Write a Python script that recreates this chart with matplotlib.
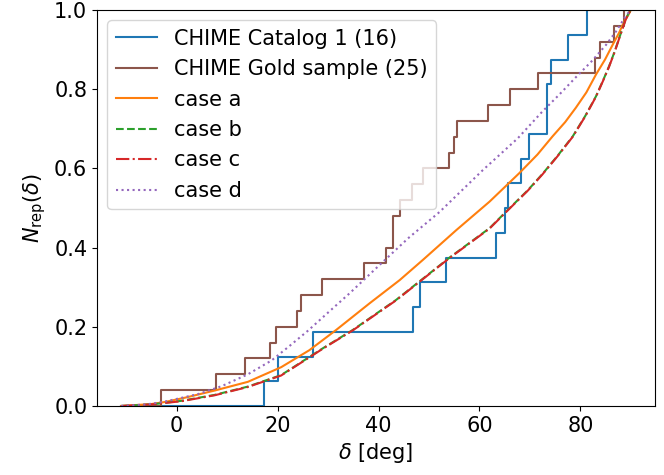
import numpy as np
import matplotlib
matplotlib.use("Agg")
import matplotlib.pyplot as plt

# Declinations (deg) of repeating FRB sources
catalog1_dec = [17.3, 20.0, 27.1, 46.9, 48.3, 53.3, 63.2, 65.1, 65.6, 68.3,
                69.8, 73.3, 73.3, 74.2, 77.6, 81.4]
gold_dec = [-3.1, 7.8, 13.5, 18.4, 19.7, 23.9, 24.6, 28.8, 37.2, 41.4,
            42.8, 42.8, 44.2, 46.6, 48.8, 53.9, 55.0, 55.6, 61.7, 66.0,
            71.7, 82.9, 83.8, 86.6, 88.7]

dec_min, dec_max = -11.0, 90.0

# Model cumulative distributions
case_a_dec = [-11, -5, -2.4, 2, 7.5, 14.1, 20.7, 26.3, 31.6, 38.2, 44.2, 48.8,
              55.4, 62.0, 67.9, 71.5, 74.5, 77.0, 79.1, 81.2, 83.1, 84.9,
              86.4, 87.7, 88.7, 89.5, 90]
case_a_val = [0, 0.005, 0.01, 0.022, 0.039, 0.061, 0.098, 0.141, 0.192, 0.259,
              0.318, 0.369, 0.444, 0.516, 0.588, 0.635, 0.681, 0.717, 0.753,
              0.792, 0.837, 0.875, 0.912, 0.943, 0.971, 0.987, 1.0]

case_b_dec = [-11, -5, 0.9, 7.5, 14.1, 20.7, 29.0, 34.9, 43.5, 54.1, 62.0,
              65.3, 69.6, 72.5, 75.5, 78.5, 81.0, 83.1, 84.5, 85.7, 86.8,
              87.7, 88.4, 89.0, 89.5, 90]
case_b_val = [0, 0.004, 0.013, 0.028, 0.049, 0.078, 0.146, 0.192, 0.268,
              0.375, 0.449, 0.491, 0.545, 0.586, 0.632, 0.681, 0.733, 0.782,
              0.822, 0.858, 0.895, 0.929, 0.955, 0.977, 0.99, 1.0]

case_c_dec = [-11, -5, 0.9, 7.5, 14.1, 20.7, 29.0, 34.9, 43.5, 54.1, 62.0,
              65.3, 69.6, 72.5, 75.5, 78.5, 81.0, 83.1, 84.5, 85.7, 86.8,
              87.7, 88.4, 89.0, 89.5, 90]
case_c_val = [0, 0.004, 0.012, 0.027, 0.048, 0.077, 0.145, 0.191, 0.267,
              0.374, 0.448, 0.490, 0.544, 0.585, 0.631, 0.680, 0.732, 0.781,
              0.821, 0.857, 0.894, 0.928, 0.954, 0.976, 0.989, 1.0]

case_d_dec = [-11, -6, -2.4, 4.2, 8.9, 14.1, 18.8, 22.4, 26.0, 30.0, 34.3,
              40.2, 46.0, 52.1, 60.7, 67.6, 72.5, 75.8, 79.1, 82.2, 85.1,
              87.2, 89.0, 90]
case_d_val = [0, 0.004, 0.011, 0.03, 0.05, 0.08, 0.115, 0.152, 0.19, 0.236,
              0.285, 0.356, 0.425, 0.49, 0.596, 0.676, 0.744, 0.786, 0.83,
              0.87, 0.912, 0.948, 0.985, 1.0]

x_ticks = [0, 20, 40, 60, 80]
y_ticks = [0.0, 0.2, 0.4, 0.6, 0.8, 1.0]


def cumulative(decs):
    d = np.sort(np.asarray(decs, dtype=float))
    n = len(d)
    x = np.concatenate([[dec_min], d, [dec_max]])
    y = np.concatenate([[0.0], np.arange(1, n + 1) / n, [1.0]])
    return x, y


plt.rcParams["font.size"] = 15
fig = plt.figure(figsize=(6.64, 4.75), dpi=100)
ax = fig.add_axes([97 / 664, 69 / 475, 558 / 664, 396 / 475])

x1, y1 = cumulative(catalog1_dec)
ax.step(x1, y1, where="post", color="C0", lw=1.5,
        label=f"CHIME Catalog 1 ({len(catalog1_dec)})")
x2, y2 = cumulative(gold_dec)
ax.step(x2, y2, where="post", color="C5", lw=1.5,
        label=f"CHIME Gold sample ({len(gold_dec)})")

ax.plot(case_a_dec, case_a_val, color="C1", ls="-", lw=1.5, label="case a")
ax.plot(case_b_dec, case_b_val, color="C2", ls="--", lw=1.5, label="case b")
ax.plot(case_c_dec, case_c_val, color="C3", ls="-.", lw=1.5, label="case c")
ax.plot(case_d_dec, case_d_val, color="C4", ls=":", lw=1.5, label="case d")

ax.set_xlim(-15.8, 94.8)
ax.set_ylim(0, 1.0)
ax.set_xticks(x_ticks)
ax.set_yticks(y_ticks)
ax.set_xlabel(r"$\delta$ [deg]")
ax.set_ylabel(r"$N_{\rm rep}(\delta)$")
ax.legend(loc="upper left")

fig.savefig("out.png", dpi=100)
